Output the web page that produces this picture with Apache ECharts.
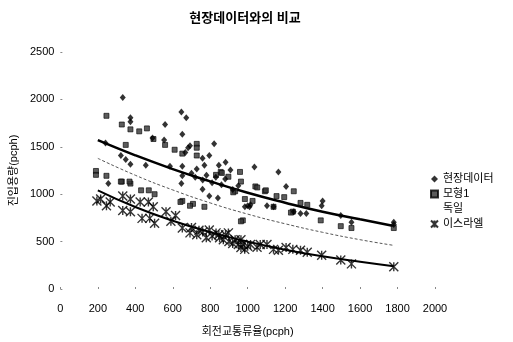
<!DOCTYPE html>
<html>
<head>
<meta charset="utf-8">
<script src="https://cdn.jsdelivr.net/npm/echarts@6/dist/echarts.min.js"></script>
<style>
  html, body { margin: 0; padding: 0; background: #fff; }
  #chart { width: 513px; height: 342px; }
</style>
</head>
<body>
<div id="chart"></div>
<script>
// 현장데이터 (diamonds)
const fieldX = [333,374,374,646,672,559,651,492,554,241,323,349,374,456,585,651,651,646,256,682,667,692,
  821,795,759,882,1036,1164,908,728,769,846,1205,759,795,841,1400,1395,1246,1282,1313,1497,1554,1780,
  1010,1780,700,720,760,780,810,830,860,880,920,950,985,1000,1015,1103,1138];
const fieldY = [2020,1806,1765,1867,1806,1735,1633,1592,1571,1541,1408,1367,1316,1306,1296,1296,1194,1112,1112,1490,1439,1510,
  1531,1408,1378,1337,1286,1235,1255,1265,1306,1306,1082,1051,980,959,929,878,816,796,796,776,704,704,
  867,680,1220,1180,1150,1200,1120,1180,1100,1160,1050,1090,867,878,888,878,867];

// 모형1 (squares)
const model1X = [246,328,374,421,462,497,559,610,651,349,246,328,374,431,472,503,651,190,190,728,728,728,
  856,959,964,1041,1092,1154,933,985,1026,1138,1241,974,708,769,1195,1246,1282,1318,1390,1554,1497,1780,
  923,1051,1097,1231,831,862,897,323,369,641,692,964];
const model1Y = [1827,1735,1684,1663,1694,1582,1520,1469,1428,1520,1194,1133,1112,1041,1041,1000,929,1245,1204,1531,1490,1408,
  1235,1235,1133,1082,1031,980,1031,949,929,867,816,724,898,867,969,1031,908,888,724,643,663,643,
  1020,1071,1041,806,1204,1224,1184,1133,1133,918,878,714];

// 이스라엘 (asterisks)
const israelX = [195,246,215,266,333,374,426,470,496,333,374,436,477,503,564,615,590,651,692,728,779,831,882,933,974,984,
  795,846,897,964,964,1015,1067,1103,1138,1164,1205,1241,1282,1318,1395,1497,1554,1780,
  700,740,760,810,850,870,900,920,950,1000,1050];
const israelY = [928,878,949,918,980,949,918,918,867,827,816,745,745,694,816,776,714,643,592,571,541,592,571,520,469,418,
  622,571,592,520,439,469,469,469,418,408,439,418,408,388,357,306,265,235,
  650,620,600,560,540,520,500,480,470,450,440];

// trend lines
const lineX = [200,400,600,800,1000,1200,1400,1600,1780];
const fieldLine = [1570,1410,1265,1135,1015,910,815,735,665];
const germanyLine = [1378,1200,1045,908,790,688,598,520,460];
const israelLine = [1041,865,720,600,500,415,345,287,240];

const zip = (xs, ys) => xs.map((x, i) => [x, ys[i]]);

const font = '"Liberation Sans", "Noto Sans CJK KR", sans-serif';
const asterisk = 'path://M0,0L10,10M10,0L0,10M5,0L5,10';

const option = {
  animation: false,
  title: {
    text: '현장데이터와의 비교',
    left: 240,
    textAlign: 'center',
    top: 7,
    textStyle: { fontFamily: font, fontSize: 13, fontWeight: 'bold', color: '#000' }
  },
  legend: {
    orient: 'vertical',
    left: 425,
    top: 168,
    itemGap: 3,
    itemWidth: 7,
    itemHeight: 7,
    textStyle: { fontFamily: font, fontSize: 11, color: '#000', lineHeight: 12 },
    data: [
      { name: '현장데이터' },
      { name: '모형1' },
      { name: '독일', itemStyle: { opacity: 0 }, lineStyle: { opacity: 0 } },
      { name: '이스라엘' }
    ]
  },
  grid: { left: 45, top: 52, width: 390, height: 246 },
  xAxis: {
    type: 'value',
    min: 0,
    max: 2000,
    interval: 200,
    name: '회전교통류율(pcph)',
    nameLocation: 'middle',
    nameGap: 37,
    nameTextStyle: { fontFamily: font, fontSize: 11, color: '#000' },
    axisLine: { show: false },
    axisTick: { show: true, length: 2, inside: true, lineStyle: { color: '#888' } },
    splitLine: { show: false },
    axisLabel: { fontFamily: font, fontSize: 11, color: '#000', margin: 14, formatter: v => String(v) }
  },
  yAxis: {
    type: 'value',
    min: 0,
    max: 2500,
    interval: 500,
    name: '진입용량(pcph)',
    nameLocation: 'middle',
    nameGap: 33,
    nameTextStyle: { fontFamily: font, fontSize: 11, color: '#000' },
    axisLine: { show: false },
    axisTick: { show: true, length: 2, inside: true, lineStyle: { color: '#888' } },
    splitLine: { show: false },
    axisLabel: { fontFamily: font, fontSize: 11, color: '#000', margin: 6, formatter: v => String(v) }
  },
  series: [
    {
      name: '현장데이터',
      type: 'scatter',
      data: zip(fieldX, fieldY),
      symbol: 'diamond',
      symbolSize: [6, 7],
      itemStyle: { color: '#000' },
      z: 4
    },
    {
      name: '모형1',
      type: 'scatter',
      data: zip(model1X, model1Y),
      symbol: 'rect',
      symbolSize: 5,
      itemStyle: { color: '#333', borderColor: '#000', borderWidth: 0.8 },
      z: 3
    },
    {
      name: '독일',
      type: 'line',
      data: zip(lineX, germanyLine),
      symbol: 'none',
      smooth: true,
      lineStyle: { color: '#555', width: 1, type: [3, 2] },
      z: 2
    },
    {
      name: '이스라엘',
      type: 'scatter',
      data: zip(israelX, israelY),
      symbol: asterisk,
      symbolSize: 9,
      itemStyle: { color: 'rgba(0,0,0,0)', borderColor: '#000', borderWidth: 1.4 },
      z: 3
    },
    {
      name: '현장추세',
      type: 'line',
      data: zip(lineX, fieldLine),
      symbol: 'none',
      smooth: true,
      lineStyle: { color: '#000', width: 2.5 },
      z: 2
    },
    {
      name: '이스라엘추세',
      type: 'line',
      data: zip(lineX, israelLine),
      symbol: 'none',
      smooth: true,
      lineStyle: { color: '#000', width: 2 },
      z: 2
    }
  ]
};

const chart = echarts.init(document.getElementById('chart'));
chart.setOption(option);
</script>
</body>
</html>
